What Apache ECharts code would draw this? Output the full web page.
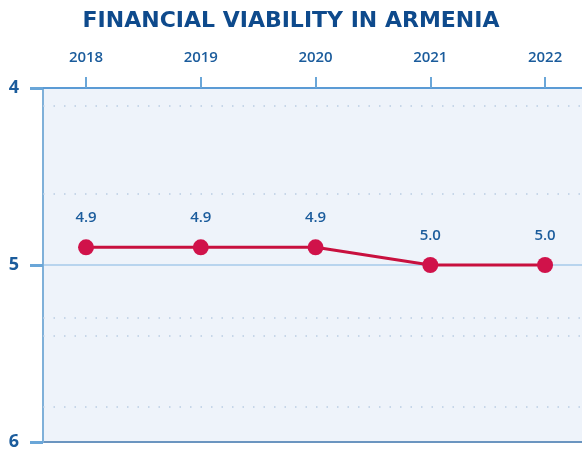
<!DOCTYPE html>
<html>
<head>
<meta charset="utf-8">
<script src="https://cdn.jsdelivr.net/npm/echarts@6/dist/echarts.min.js"></script>
<style>
html, body { margin: 0; padding: 0; background: #fff; }
#main { width: 582px; height: 452px; }
</style>
</head>
<body>
<div id="main"></div>
<script>
// data
var years = [2018, 2019, 2020, 2021, 2022];
var scores = [4.9, 4.9, 4.9, 5.0, 5.0];
var yTicks = [4, 5, 6];
var dotLines = [4.1, 4.6, 5.3, 5.4, 5.8]; // faint dotted guides

var blue = '#1b5c9c';
var labelFont = '"Open Sans", sans-serif';

var option = {
	animation: false,
	title: {
		text: 'FINANCIAL VIABILITY IN ARMENIA',
		left: 'center',
		top: 5,
		textStyle: {
			color: '#0e4a8c',
			fontSize: 22,
			fontWeight: 'bold',
			fontFamily: '"DejaVu Sans", sans-serif'
		}
	},
	grid: {
		left: 43,
		right: 0,
		top: 88,
		bottom: 10,
		show: true,
		backgroundColor: '#eef3fa',
		borderWidth: 0
	},
	xAxis: {
		type: 'value',
		position: 'top',
		min: 2017.625,
		max: 2022.322,
		axisLine: { show: true, lineStyle: { color: '#5b9bd5', width: 2 } },
		axisTick: {
			show: true,
			customValues: years,
			length: 11,
			lineStyle: { color: '#6aa6d8', width: 2 }
		},
		axisLabel: {
			customValues: years,
			color: blue,
			fontSize: 15,
			fontWeight: 600,
			fontFamily: labelFont,
			margin: 23,
			formatter: function(v) { return String(v); }
		},
		splitLine: { show: false }
	},
	yAxis: {
		type: 'value',
		inverse: true,
		min: 4,
		max: 6,
		interval: 1,
		axisLine: { show: true, lineStyle: { color: '#7fb0d9', width: 2 } },
		axisTick: { show: true, length: 13, lineStyle: { color: '#6aa6d8', width: 3 } },
		axisLabel: {
			color: blue,
			fontSize: 18,
			fontWeight: 'bold',
			fontFamily: '"Open Sans", sans-serif',
			margin: 24,
			formatter: function(v) { return yTicks.indexOf(v) >= 0 ? String(v) : ''; }
		},
		splitLine: {
			show: true,
			lineStyle: { color: ['#5b9bd5', '#b8d4ee', '#6b95c0'], width: 2 }
		}
	},
	series: [{
		type: 'line',
		data: years.map(function(y, i) { return [y, scores[i]]; }),
		symbol: 'circle',
		symbolSize: 16,
		lineStyle: { color: '#c8103e', width: 3 },
		itemStyle: { color: '#d0124a' },
		label: {
			show: true,
			position: 'top',
			distance: 14,
			color: blue,
			fontSize: 15,
			fontWeight: 600,
			fontFamily: labelFont,
			formatter: function(p) { return p.value[1].toFixed(1); }
		},
		markLine: {
			silent: true,
			symbol: 'none',
			label: { show: false },
			lineStyle: { color: '#b9cde2', width: 1.5, type: [1.5, 9] },
			data: dotLines.map(function(v) { return { yAxis: v }; })
		},
		z: 5
	}]
};

var myChart = echarts.init(document.getElementById('main'));
myChart.setOption(option);
</script>
</body>
</html>
